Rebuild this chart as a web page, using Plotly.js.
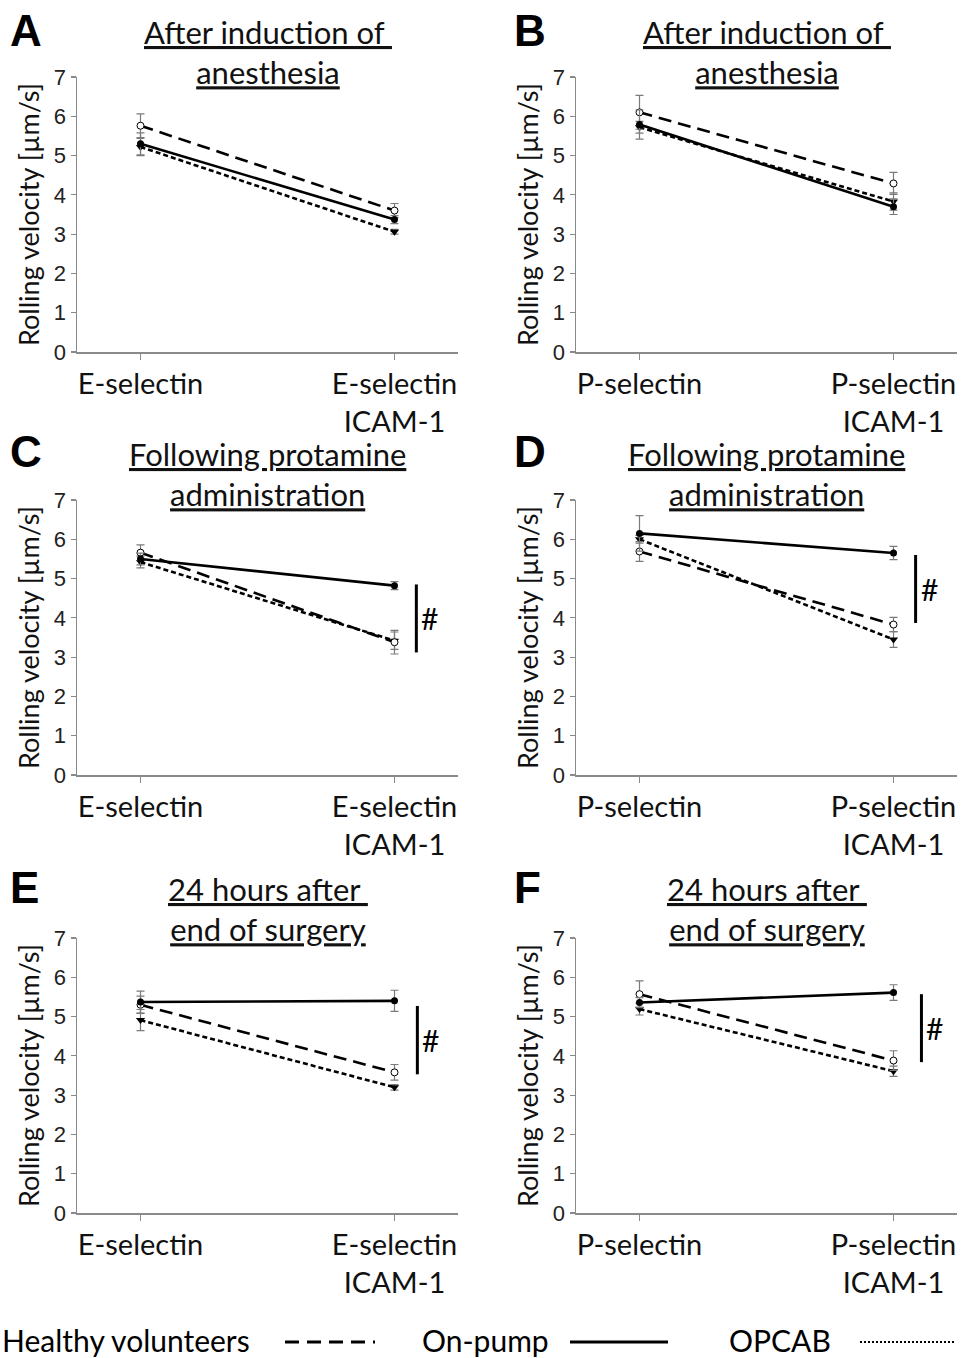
<!DOCTYPE html>
<html>
<head>
<meta charset="utf-8">
<script src="https://cdn.plot.ly/plotly-3.0.1.min.js"></script>
<style>html,body{margin:0;padding:0;background:#fff;}</style>
</head>
<body>
<div id="chart" style="width:964px;height:1358px;"></div>
<script>
// ---------------- data ----------------
const catsE = ['E-selectin', 'E-selectin<br>ICAM-1'];
const catsP = ['P-selectin', 'P-selectin<br>ICAM-1'];
const catPos = [0, 1];

const panelLetters = ['A', 'B', 'C', 'D', 'E', 'F'];
const panelTitles = [
  '<u>After induction of </u><br><u>anesthesia</u>',
  '<u>After induction of </u><br><u>anesthesia</u>',
  '<u>Following protamine</u><br><u>administration</u>',
  '<u>Following protamine</u><br><u>administration</u>',
  '<u>24 hours after </u><br><u>end of surgery</u>',
  '<u>24 hours after </u><br><u>end of surgery</u>'
];

// Healthy volunteers
const healthyA = [5.76, 3.60], healthyErrA = [0.30, 0.18];
const healthyB = [6.10, 4.29], healthyErrB = [0.43, 0.28];
const healthyC = [5.66, 3.38], healthyErrC = [0.20, 0.30];
const healthyD = [5.69, 3.83], healthyErrD = [0.25, 0.18];
const healthyE = [5.30, 3.58], healthyErrE = [0.22, 0.20];
const healthyF = [5.57, 3.88], healthyErrF = [0.34, 0.25];
// On-pump
const onpumpA = [5.30, 3.37], onpumpErrA = [0.28, 0.10];
const onpumpB = [5.79, 3.70], onpumpErrB = [0.37, 0.20];
const onpumpC = [5.50, 4.82], onpumpErrC = [0.15, 0.10];
const onpumpD = [6.15, 5.65], onpumpErrD = [0.45, 0.17];
const onpumpE = [5.37, 5.40], onpumpErrE = [0.28, 0.27];
const onpumpF = [5.36, 5.61], onpumpErrF = [0.12, 0.20];
// OPCAB
const opcabA = [5.22, 3.06], opcabErrA = [0.22, 0.06];
const opcabB = [5.72, 3.83], opcabErrB = [0.15, 0.22];
const opcabC = [5.42, 3.42], opcabErrC = [0.15, 0.22];
const opcabD = [6.00, 3.45], opcabErrD = [0.10, 0.20];
const opcabE = [4.91, 3.20], opcabErrE = [0.27, 0.07];
const opcabF = [5.19, 3.61], opcabErrF = [0.15, 0.13];

// significance bars (panels C, D, E, F)
const sigPanels = [2, 3, 4, 5];
const sigX = [1.086, 1.087, 1.09, 1.11];
const sigTop = [4.85, 5.60, 5.27, 5.57];
const sigBottom = [3.12, 3.87, 3.53, 3.84];
const sigLabel = '#';

const legendNames = ['Healthy volunteers', 'On-pump', 'OPCAB'];

// ---------------- layout helpers ----------------
const W = 964, H = 1358;
const fx = p => p / W;
const fy = p => 1 - p / H;
const colX = [[77, 458], [576, 957]];
const rowY = [[77, 352], [500, 775], [938, 1213]];
const titleY = [52, 474, 909];

const healthy = [healthyA, healthyB, healthyC, healthyD, healthyE, healthyF];
const healthyErr = [healthyErrA, healthyErrB, healthyErrC, healthyErrD, healthyErrE, healthyErrF];
const onpump = [onpumpA, onpumpB, onpumpC, onpumpD, onpumpE, onpumpF];
const onpumpErr = [onpumpErrA, onpumpErrB, onpumpErrC, onpumpErrD, onpumpErrE, onpumpErrF];
const opcab = [opcabA, opcabB, opcabC, opcabD, opcabE, opcabF];
const opcabErr = [opcabErrA, opcabErrB, opcabErrC, opcabErrD, opcabErrE, opcabErrF];

const FONT = 'Lato, Carlito, "Open Sans", sans-serif';
const NUMFONT = '"Liberation Sans", Arial, sans-serif';
const AXC = '#8a8a8a';
const ERRC = '#7a7a7a';

const traces = [];
const layout = {
  width: W, height: H,
  margin: {l: 0, r: 0, t: 0, b: 0},
  paper_bgcolor: '#fff', plot_bgcolor: '#fff',
  showlegend: false,
  font: {family: FONT, color: '#111'},
  annotations: [], shapes: []
};

for (let i = 0; i < 6; i++) {
  const col = i % 2, row = Math.floor(i / 2);
  const xs = i === 0 ? '' : String(i + 1);
  const xa = 'x' + xs, ya = 'y' + xs;
  const err = (arr) => ({type: 'data', array: arr, visible: true, color: ERRC, thickness: 1.2, width: 4});
  traces.push({
    x: catPos, y: opcab[i], xaxis: xa, yaxis: ya, type: 'scatter', mode: 'lines+markers',
    name: legendNames[2], error_y: err(opcabErr[i]),
    line: {color: '#000', width: 2.6, dash: '5px,3px'},
    marker: {symbol: 'triangle-down', size: 8, color: '#000'}
  });
  traces.push({
    x: catPos, y: healthy[i], xaxis: xa, yaxis: ya, type: 'scatter', mode: 'lines+markers',
    name: legendNames[0], error_y: err(healthyErr[i]),
    line: {color: '#000', width: 2.6, dash: '13px,7px'},
    marker: {symbol: 'circle', size: 7, color: '#fff', line: {color: '#000', width: 1}}
  });
  traces.push({
    x: catPos, y: onpump[i], xaxis: xa, yaxis: ya, type: 'scatter', mode: 'lines+markers',
    name: legendNames[1], error_y: err(onpumpErr[i]),
    line: {color: '#000', width: 2.6},
    marker: {symbol: 'circle', size: 7, color: '#000'}
  });

  layout['xaxis' + xs] = {
    domain: [fx(colX[col][0]), fx(colX[col][1])],
    anchor: ya, range: [-0.25, 1.25],
    tickvals: catPos, ticktext: col === 0 ? catsE : catsP,
    showline: true, linecolor: AXC, linewidth: 1.5,
    ticks: 'outside', ticklen: 6, tickcolor: AXC, tickwidth: 1.2,
    showgrid: false, zeroline: false, fixedrange: true,
    tickfont: {family: FONT, size: 29, color: '#111'}
  };
  layout['yaxis' + xs] = {
    domain: [fy(rowY[row][1]), fy(rowY[row][0])],
    anchor: xa, range: [0, 7], dtick: 1, tick0: 0,
    showline: true, linecolor: AXC, linewidth: 1.5,
    ticks: 'outside', ticklen: 5, tickcolor: AXC, tickwidth: 1.2,
    showgrid: false, zeroline: false, fixedrange: true,
    tickfont: {family: NUMFONT, size: 22, color: '#222'},
    title: {text: 'Rolling velocity [µm/s]', font: {family: FONT, size: 27, color: '#111'}, standoff: 6}
  };

  // panel letter
  layout.annotations.push({
    xref: 'paper', yref: 'paper', x: fx(col === 0 ? 8 : 512), y: fy(titleY[row] - 22),
    xanchor: 'left', yanchor: 'middle', showarrow: false,
    text: '<b>' + panelLetters[i] + '</b>',
    font: {family: NUMFONT, size: 44, color: '#000'}
  });
  // panel title
  layout.annotations.push({
    xref: 'paper', yref: 'paper', x: fx((colX[col][0] + colX[col][1]) / 2), y: fy(titleY[row]),
    xanchor: 'center', yanchor: 'middle', showarrow: false,
    text: panelTitles[i],
    font: {family: FONT, size: 31, color: '#111'}
  });
}

// significance bars
sigPanels.forEach((p, k) => {
  const xs = p === 0 ? '' : String(p + 1);
  layout.shapes.push({
    type: 'line', xref: 'x' + xs, yref: 'y' + xs,
    x0: sigX[k], x1: sigX[k], y0: sigBottom[k], y1: sigTop[k],
    line: {color: '#000', width: 3}
  });
  layout.annotations.push({
    xref: 'x' + xs, yref: 'y' + xs, x: sigX[k], y: (sigTop[k] + sigBottom[k]) / 2,
    xanchor: 'left', yanchor: 'middle', xshift: 3, showarrow: false,
    text: sigLabel, font: {family: FONT, size: 30, color: '#000'}
  });
});

// legend at the bottom (text followed by line sample)
const legY = 1340;
const legItems = [
  {text: legendNames[0], x: 0, l0: 285, l1: 375, dash: '14px,8px', w: 3},
  {text: legendNames[1], x: 420, l0: 570, l1: 668, dash: 'solid', w: 3},
  {text: legendNames[2], x: 727, l0: 860, l1: 955, dash: '2px,2px', w: 2}
];
legItems.forEach(it => {
  layout.annotations.push({
    xref: 'paper', yref: 'paper', x: fx(it.x), y: fy(legY),
    xanchor: 'left', yanchor: 'middle', showarrow: false,
    text: it.text, font: {family: FONT, size: 30, color: '#000'}
  });
  layout.shapes.push({
    type: 'line', xref: 'paper', yref: 'paper',
    x0: fx(it.l0), x1: fx(it.l1), y0: fy(legY + 2), y1: fy(legY + 2),
    line: {color: '#000', width: it.w, dash: it.dash}
  });
});

Plotly.newPlot('chart', traces, layout, {staticPlot: true, displayModeBar: false});
</script>
</body>
</html>
